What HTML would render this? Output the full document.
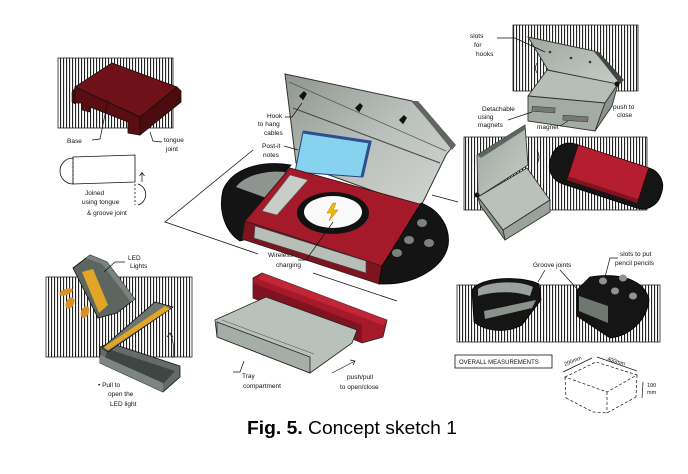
<!DOCTYPE html>
<html><head><meta charset="utf-8"><style>
html,body{margin:0;padding:0;background:#fff;}
svg{display:block;}
.t{font-family:"Liberation Sans",sans-serif;font-size:6.5px;fill:#111;}
</style></head><body>
<svg width="688" height="474" viewBox="0 0 688 474" xmlns="http://www.w3.org/2000/svg">
<defs>
<pattern id="h" width="3" height="10" patternUnits="userSpaceOnUse"><rect x="0" y="0" width="3" height="10" fill="#fff"/><rect x="0" y="0" width="1.1" height="10" fill="#222"/></pattern>
<linearGradient id="lid" x1="0" y1="0" x2="1" y2="1"><stop offset="0" stop-color="#8f968f"/><stop offset="0.5" stop-color="#b9bfba"/><stop offset="1" stop-color="#d2d6d2"/></linearGradient>
<linearGradient id="gc" x1="0" y1="0" x2="1" y2="1"><stop offset="0" stop-color="#9ea89f"/><stop offset="1" stop-color="#c6cdc6"/></linearGradient>
</defs>
<rect width="688" height="474" fill="#fff"/>

<!-- hatched panels -->
<rect x="58" y="58" width="115" height="70" fill="url(#h)" stroke="#222" stroke-width="0.8"/>
<rect x="513" y="25" width="125" height="66" fill="url(#h)" stroke="#222" stroke-width="0.8"/>
<rect x="464" y="137" width="183" height="73" fill="url(#h)" stroke="#222" stroke-width="0.8"/>
<rect x="46" y="277" width="146" height="80" fill="url(#h)" stroke="#222" stroke-width="0.8"/>
<rect x="457" y="285" width="203" height="57" fill="url(#h)" stroke="#222" stroke-width="0.8"/>

<!-- top-left base block -->
<polygon points="72,92 75,88 75,104 72,102" fill="#4e0a0f" stroke="#111" stroke-width="0.6"/>
<polygon points="75,87 112,63 177,87 140,117" fill="#6e1118" stroke="#111" stroke-width="0.8"/>
<polygon points="75,87 140,117 140,135 128,133 128,122 90,107 90,112 82,110 82,103 75,103" fill="#5a0d13" stroke="#111" stroke-width="0.8"/>
<polygon points="140,117 177,87 181,91 181,102 150,127 140,135" fill="#4f0a10" stroke="#111" stroke-width="0.8"/>
<line x1="144" y1="122" x2="181" y2="95" stroke="#222" stroke-width="0.5"/>
<line x1="144" y1="127" x2="181" y2="99" stroke="#222" stroke-width="0.5"/>
<polyline points="92,140 100,139 108,100" fill="none" stroke="#111" stroke-width="0.7"/>
<text class="t" x="67" y="143">Base</text>
<polyline points="162,142 153,141 150,132" fill="none" stroke="#111" stroke-width="0.7"/>
<text class="t" x="164" y="142">tongue</text>
<text class="t" x="166" y="151">joint</text>

<!-- tongue & groove sketch -->
<polygon points="73,157 135,155 135,182 73,184" fill="#fff" stroke="#111" stroke-width="0.8"/>
<path d="M73,158 A13,13 0 0 0 73,184" fill="none" stroke="#111" stroke-width="0.8"/>
<line x1="73" y1="158" x2="73" y2="184" stroke="#111" stroke-width="0.8" stroke-dasharray="2,2"/>
<line x1="135" y1="184" x2="135" y2="205" stroke="#111" stroke-width="0.8" stroke-dasharray="2,2"/>
<path d="M138,184 A11,11 0 0 1 138,205" fill="none" stroke="#111" stroke-width="0.8"/>
<line x1="142" y1="182" x2="142" y2="173" stroke="#111" stroke-width="0.7"/>
<polyline points="139.5,176 142,172.5 144.5,176" fill="none" stroke="#111" stroke-width="0.7"/>
<text class="t" x="85" y="195">Joined</text>
<text class="t" x="82" y="204">using tongue</text>
<text class="t" x="87" y="215">&amp; groove joint</text>

<!-- connector wedge to main product -->
<polyline points="253,150 165,222 258,254" fill="none" stroke="#111" stroke-width="0.8"/>
<line x1="313" y1="273" x2="397" y2="301" stroke="#111" stroke-width="0.8"/>
<line x1="432" y1="195" x2="458" y2="202" stroke="#111" stroke-width="0.8"/>

<!-- main product: lid -->
<polygon points="285,74 412,101 452,147 446,155 420,208 296,163" fill="url(#lid)" stroke="#333" stroke-width="1"/>
<polygon points="412,101 418,101 456,145 452,150" fill="#5f6560"/>
<line x1="289" y1="82" x2="446" y2="151" stroke="#555" stroke-width="0.7"/>
<line x1="293" y1="108" x2="440" y2="163" stroke="#444" stroke-width="1"/>
<path d="M300,96 l4,-4 l2,2 l-3,5 z M356,108 l4,-4 l2,2 l-3,5 z M400,120 l4,-4 l2,2 l-3,5 z" fill="#111" stroke="#111" stroke-width="1.5"/>
<!-- post-it -->
<polygon points="303,132 370,142 362,177 295,172" fill="#87d3ef" stroke="#23407a" stroke-width="1"/>
<polyline points="303,132 370,142 362,177" fill="none" stroke="#2b4f8f" stroke-width="3"/>
<!-- left black end -->
<path d="M291,165 C262,160 232,168 223,190 C218,210 225,232 240,241 L248,239 L245,222 Z" fill="#141414" stroke="#000" stroke-width="0.8"/>
<path d="M285,172 C265,170 244,176 236,187 L272,200 Z" fill="#8e9590"/>
<!-- red top -->
<polygon points="290,168 423,205 382,266 245,221" fill="#a51a2b" stroke="#3a0a0e" stroke-width="0.8"/>
<polygon points="290,175 308,180 277,215 262,211" fill="#c8cdc8" stroke="#555" stroke-width="0.6"/>
<!-- front face -->
<polygon points="245,221 382,266 379,284 242,239" fill="#7e1420" stroke="#222" stroke-width="0.8"/>
<polygon points="255,226 366,261 366,273 254,238" fill="#b8beb8" stroke="#444" stroke-width="0.6"/>
<!-- right black end -->
<path d="M421,203 C440,210 451,228 448,246 C443,268 415,284 385,284 L379,284 L382,266 Z" fill="#141414" stroke="#000" stroke-width="0.8"/>
<ellipse cx="422" cy="223" rx="5" ry="4" fill="#7b827d"/>
<ellipse cx="409" cy="240" rx="5" ry="4" fill="#7b827d"/>
<ellipse cx="429" cy="243" rx="5" ry="4" fill="#7b827d"/>
<ellipse cx="397" cy="253" rx="5" ry="4" fill="#7b827d"/>
<!-- wireless pad -->
<ellipse cx="333" cy="213" rx="36" ry="21" fill="#111"/>
<ellipse cx="333" cy="212" rx="29" ry="16" fill="#fafafa"/>
<polygon points="333,203 327,213 332,213 329,221 338,210 333,210 336,203" fill="#f2b705" stroke="#b07a00" stroke-width="0.5"/>
<!-- labels main -->
<text class="t" x="267" y="118">Hook</text>
<text class="t" x="258" y="126">to hang</text>
<text class="t" x="264" y="135">cables</text>
<polyline points="285,117 292,117 302,103" fill="none" stroke="#111" stroke-width="0.7"/>
<text class="t" x="262" y="148">Post-it</text>
<text class="t" x="263" y="157">notes</text>
<line x1="284" y1="146" x2="298" y2="150" stroke="#111" stroke-width="0.7"/>
<text class="t" x="268" y="257">Wireless</text>
<text class="t" x="276" y="267">charging</text>
<polyline points="298,260 306,260 333,222" fill="none" stroke="#111" stroke-width="0.7"/>

<!-- tray -->
<polygon points="253,278 262,273 387,320 383,337 362,343 253,298" fill="#a5192b" stroke="#222" stroke-width="0.8"/>
<polygon points="262,273 387,320 383,325 258,279" fill="#c22536"/>
<polygon points="253,298 362,343 362,325 253,283" fill="#801320"/>
<polygon points="215,320 266,297 357,330 352,343 310,373 217,337" fill="#b9c1bb" stroke="#222" stroke-width="0.8"/>
<polygon points="217,322 310,357 310,373 217,337" fill="#a5ada7" stroke="#222" stroke-width="0.8"/>
<line x1="222" y1="320" x2="314" y2="354" stroke="#555" stroke-width="0.6"/>
<polyline points="233,372 240,372 244,361" fill="none" stroke="#111" stroke-width="0.7"/>
<text class="t" x="242" y="378">Tray</text>
<text class="t" x="243" y="388">compartment</text>
<line x1="332" y1="373" x2="355" y2="361" stroke="#111" stroke-width="0.7"/>
<polyline points="350,360 355,361 353,365" fill="none" stroke="#111" stroke-width="0.7"/>
<text class="t" x="347" y="379">push/pull</text>
<text class="t" x="340" y="389">to open/close</text>

<!-- top right case 1 -->
<polygon points="528,37 594,51 620,80 614,85 548,70" fill="url(#gc)" stroke="#333" stroke-width="0.9"/>
<polygon points="594,51 599,52 624,80 620,84" fill="#3e4440"/>
<circle cx="550" cy="52" r="1.3" fill="#333"/><circle cx="571" cy="58" r="1.3" fill="#333"/><circle cx="590" cy="62" r="1.3" fill="#333"/>
<polygon points="547,70 618,84 605,103 528,96" fill="#b6beb7" stroke="#333" stroke-width="0.9"/>
<polygon points="528,96 605,103 595,131 528,121" fill="#a3aca4" stroke="#333" stroke-width="0.9"/>
<polygon points="605,103 618,84 612,106 595,131" fill="#8b948c" stroke="#333" stroke-width="0.9"/>
<circle cx="617" cy="84" r="2.5" fill="#111"/>
<rect x="532" y="107" width="23" height="5" fill="#777" stroke="#333" stroke-width="0.5" transform="rotate(4 543 110)"/>
<rect x="563" y="116" width="25" height="5" fill="#777" stroke="#333" stroke-width="0.5" transform="rotate(4 575 118)"/>
<text class="t" x="470" y="38">slots</text>
<text class="t" x="474" y="47">for</text>
<text class="t" x="476" y="56">hooks</text>
<polyline points="497,38 515,38 545,52" fill="none" stroke="#111" stroke-width="0.7"/>
<text class="t" x="482" y="111">Detachable</text>
<text class="t" x="478" y="119">using</text>
<text class="t" x="478" y="127">magnets</text>
<line x1="508" y1="120" x2="532" y2="112" stroke="#111" stroke-width="0.7"/>
<text class="t" x="537" y="129">magnet</text>
<line x1="560" y1="126" x2="568" y2="121" stroke="#111" stroke-width="0.7"/>
<text class="t" x="613" y="109">push to</text>
<text class="t" x="617" y="117">close</text>
<path d="M537,63 q-3,5 0,10" fill="none" stroke="#111" stroke-width="0.7"/>

<!-- case 2 -->
<polygon points="477,155 525,125 528,165 478,197" fill="url(#gc)" stroke="#333" stroke-width="0.9"/>
<polygon points="477,155 525,125 526,129 481,158" fill="#5d655f"/>
<polygon points="478,197 527,168 550,200 503,230" fill="#b9c1ba" stroke="#333" stroke-width="0.9"/>
<polygon points="503,230 550,200 550,212 505,240" fill="#9aa39b" stroke="#333" stroke-width="0.9"/>
<polygon points="478,197 503,230 505,240 480,205" fill="#8c958d" stroke="#333" stroke-width="0.9"/>
<circle cx="477" cy="195" r="2.5" fill="#111"/>
<path d="M537,150 q4,7 0,14" fill="none" stroke="#111" stroke-width="0.7"/>
<!-- red slider -->
<g transform="translate(606,176) rotate(18)">
<rect x="-58" y="-21" width="116" height="42" rx="19" fill="#151515" stroke="#000" stroke-width="0.8"/>
<rect x="-36" y="-21" width="74" height="37" fill="#b51d30" stroke="#300" stroke-width="0.6"/>
<rect x="-36" y="12" width="74" height="4" fill="#7f1320"/>
</g>

<!-- bottom right pieces -->
<path d="M472,290 C480,277 520,275 539,284 L541,300 L522,325 C505,334 485,331 474,322 Z" fill="#151515" stroke="#000" stroke-width="0.8"/>
<path d="M478,289 C488,281 520,280 533,287 L530,296 C512,290 490,292 478,296 Z" fill="#9aa29c"/>
<polygon points="484,311 536,300 532,308 485,319" fill="#8a928c"/>
<path d="M577,290 L590,277 C620,272 645,280 649,300 C647,320 630,336 610,338 L577,316 Z" fill="#151515" stroke="#000" stroke-width="0.8"/>
<polygon points="579,296 608,306 608,323 579,311" fill="#6f7771"/>
<ellipse cx="603" cy="281" rx="4" ry="3.5" fill="#8d958f"/>
<ellipse cx="623" cy="278" rx="4" ry="3.5" fill="#8d958f"/>
<ellipse cx="615" cy="291" rx="4" ry="3.5" fill="#8d958f"/>
<ellipse cx="633" cy="296" rx="4" ry="3.5" fill="#8d958f"/>
<text class="t" x="533" y="267">Groove joints</text>
<line x1="545" y1="270" x2="538" y2="282" stroke="#111" stroke-width="0.7"/>
<line x1="560" y1="270" x2="578" y2="290" stroke="#111" stroke-width="0.7"/>
<text class="t" x="620" y="256">slots to put</text>
<text class="t" x="615" y="265">pencil pencils</text>
<polyline points="618,258 610,258 605,277" fill="none" stroke="#111" stroke-width="0.7"/>

<!-- measurements -->
<rect x="455" y="355" width="97" height="13" fill="#fff" stroke="#111" stroke-width="0.8"/>
<text class="t" x="459" y="364" style="font-size:6px">OVERALL MEASUREMENTS</text>
<g fill="none" stroke="#111" stroke-width="0.7" stroke-dasharray="3,2">
<polygon points="565,377 596,362 637,375 607,392"/>
<line x1="565" y1="377" x2="566" y2="398"/>
<line x1="607" y1="392" x2="607" y2="413"/>
<line x1="637" y1="375" x2="636" y2="397"/>
<polyline points="566,398 593,412 607,413 636,397"/>
</g>
<line x1="563" y1="372" x2="592" y2="358" stroke="#111" stroke-width="0.7"/>
<line x1="597" y1="357" x2="637" y2="371" stroke="#111" stroke-width="0.7"/>
<line x1="643" y1="382" x2="642" y2="398" stroke="#111" stroke-width="0.7"/>
<text class="t" x="565" y="366" style="font-size:5.5px" transform="rotate(-22 565 366)">200mm</text>
<text class="t" x="607" y="360" style="font-size:5.5px" transform="rotate(18 607 360)">400mm</text>
<text class="t" x="647" y="387" style="font-size:5.5px">100</text>
<text class="t" x="647" y="394" style="font-size:5.5px">mm</text>

<!-- bottom-left LED pieces -->
<ellipse cx="66" cy="292" rx="7" ry="3" fill="#d99127" transform="rotate(-20 66 292)"/>
<ellipse cx="70" cy="303" rx="4" ry="6" fill="#d99127" transform="rotate(30 70 303)"/>
<ellipse cx="85" cy="312" rx="4" ry="6" fill="#d99127" transform="rotate(25 85 312)"/>
<polygon points="73,268 90,255 107,262 135,299 117,313 98,318" fill="#5d6561" stroke="#111" stroke-width="0.8"/>
<polygon points="82,272 93,269 108,305 99,313" fill="#e2a526"/>
<polygon points="90,255 107,262 135,299 131,302 102,264 86,258" fill="#7b837e"/>
<polyline points="125,262 115,262 104,272" fill="none" stroke="#111" stroke-width="0.7"/>
<text class="t" x="128" y="260">LED</text>
<text class="t" x="130" y="268">Lights</text>
<polygon points="100,347 110,343 180,366 180,377 163,392 100,363" fill="#646c67" stroke="#111" stroke-width="0.8"/>
<polygon points="108,349 175,371 163,384 105,358" fill="#3f4542"/>
<polygon points="100,363 163,392 163,383 100,355" fill="#7d8580"/>
<polygon points="102,348 155,302 173,307 108,352" fill="#6d756f" stroke="#111" stroke-width="0.8"/>
<polygon points="108,350 170,309 165,306 104,347" fill="#e2a526"/>
<path d="M170,333 q5,10 3,25" fill="none" stroke="#111" stroke-width="0.7"/>
<polyline points="167,337 170,333 173,337" fill="none" stroke="#111" stroke-width="0.7"/>
<text class="t" x="98" y="387">• Pull to</text>
<text class="t" x="108" y="396">open the</text>
<text class="t" x="110" y="406">LED light</text>

<!-- caption -->
<text x="247" y="434" font-family="Liberation Sans, sans-serif" font-size="18.5" fill="#000" textLength="210" lengthAdjust="spacingAndGlyphs"><tspan font-weight="bold">Fig. 5.</tspan> Concept sketch 1</text>
</svg>
</body></html>
